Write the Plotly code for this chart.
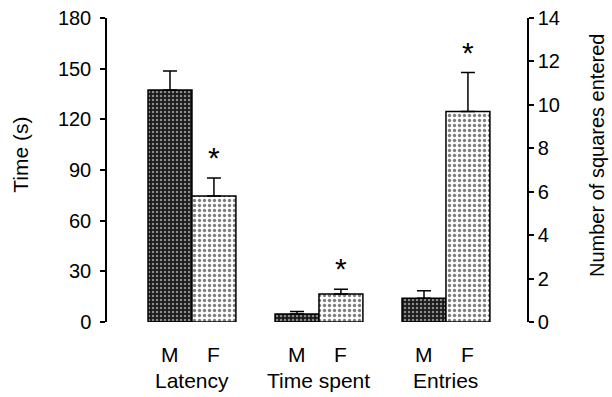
import plotly.graph_objects as go

groups = ["Latency", "Time spent", "Entries"]
sexes = ["M", "F"]
male_vals = [137.4, 4.7, 1.09]
male_err = [11.2, 1.5, 0.35]
female_vals = [74.6, 16.6, 9.69]
female_err = [10.7, 2.8, 1.8]
female_sig = [True, True, True]
axis_for_group = ["y", "y", "y2"]

left_ticks = [0, 30, 60, 90, 120, 150, 180]
right_ticks = [0, 2, 4, 6, 8, 10, 12, 14]

bar_w = 0.346
off = 0.173
font_family = "Liberation Sans, Arial, sans-serif"
fsize = 20
lsize = 21

fig = go.Figure()
for i, g in enumerate(groups):
    pos = i + 1
    yax = axis_for_group[i]
    fig.add_trace(go.Bar(
        x=[pos - off], y=[male_vals[i]], width=bar_w, yaxis=yax,
        marker=dict(color="black", line=dict(color="black", width=1.5),
                    pattern=dict(shape=".", fgcolor="white", bgcolor="#1a1a1a",
                                 size=4, solidity=0.3)),
        error_y=dict(type="data", symmetric=False, array=[male_err[i]], arrayminus=[0],
                     color="black", thickness=1.5, width=7),
        showlegend=False, hoverinfo="skip"))
    fig.add_trace(go.Bar(
        x=[pos + off], y=[female_vals[i]], width=bar_w, yaxis=yax,
        marker=dict(color="white", line=dict(color="black", width=1.5),
                    pattern=dict(shape=".", fgcolor="black", bgcolor="white",
                                 size=5, solidity=0.35)),
        error_y=dict(type="data", symmetric=False, array=[female_err[i]], arrayminus=[0],
                     color="black", thickness=1.5, width=7),
        showlegend=False, hoverinfo="skip"))
    for x, s in zip([pos - off, pos + off], sexes):
        fig.add_annotation(x=x, y=-0.108, xref="x", yref="paper", text=s,
                           showarrow=False, yanchor="middle", xanchor="center",
                           font=dict(size=lsize, color="black", family=font_family))
    if female_sig[i]:
        fig.add_annotation(x=pos + off, y=female_vals[i] + female_err[i],
                           yref=yax, xref="x", text="*", showarrow=False,
                           yanchor="bottom", xanchor="center", yshift=2,
                           font=dict(size=30, color="black", family=font_family))
    fig.add_annotation(x=pos, y=-0.193, xref="x", yref="paper", text=g,
                       showarrow=False, yanchor="middle", xanchor="center",
                       font=dict(size=lsize, color="black", family=font_family))

fig.add_annotation(x=-0.205, y=0.55, xref="paper", yref="paper", text="Time (s)",
                   textangle=-90, showarrow=False, xanchor="center", yanchor="middle",
                   font=dict(size=lsize, color="black", family=font_family))
fig.add_annotation(x=1.1667, y=0.546, xref="paper", yref="paper",
                   text="Number of squares entered", textangle=-90, showarrow=False,
                   xanchor="center", yanchor="middle",
                   font=dict(size=fsize, color="black", family=font_family))

fig.update_layout(
    width=612, height=397,
    margin=dict(l=107, r=85, t=18, b=75),
    paper_bgcolor="white", plot_bgcolor="white",
    font=dict(family=font_family, size=fsize, color="black"),
    barmode="overlay",
    xaxis=dict(range=[0.331, 3.638], showticklabels=False,
               showline=False, ticks="", showgrid=False, zeroline=False),
    yaxis=dict(range=[0, 180], tickvals=left_ticks, showline=True, linecolor="black",
               linewidth=1.5, ticks="outside", ticklen=5, tickwidth=1.5, tickcolor="black",
               showgrid=False, zeroline=False, automargin=False, ticklabelstandoff=5),
    yaxis2=dict(range=[0, 14], tickvals=right_ticks, overlaying="y", side="right",
                showline=True, linecolor="black", linewidth=1.5, ticks="outside",
                ticklen=5, tickwidth=1.5, tickcolor="black", showgrid=False, zeroline=False,
                automargin=False),
)

fig.write_html("out.html", config={"displayModeBar": False},
               post_script="document.body.style.margin='0';document.body.style.overflow='hidden';")
